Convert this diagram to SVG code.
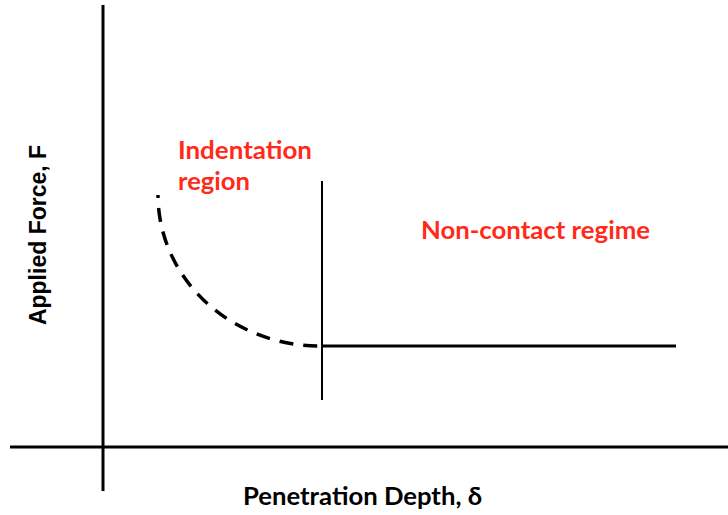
<svg xmlns="http://www.w3.org/2000/svg" width="728" height="515" viewBox="0 0 728 515">
<style>
.ax{stroke:#000;stroke-width:3;fill:none}
.lbl{font-family:Lato,"Open Sans",sans-serif;font-weight:bold;font-size:24px;fill:#000}
.ylbl{font-family:"Liberation Sans",Arial,sans-serif;font-weight:bold;font-size:23px;fill:#000}
.red{font-family:Lato,"Open Sans",sans-serif;font-weight:bold;font-size:24px;fill:#ff2a1a}
</style>
<rect width="728" height="515" fill="#fff"/>
<g id="connectors">
<line class="ax" x1="103" y1="5" x2="103" y2="491"/>
<line class="ax" x1="10" y1="447" x2="728" y2="447"/>
<line x1="322" y1="181" x2="322" y2="400" stroke="#000" stroke-width="2"/>
<line class="ax" x1="321" y1="346" x2="676" y2="346"/>
<path d="M158,195 A162,151 0 0 0 320,346" stroke="#000" stroke-width="3.5" fill="none" stroke-dasharray="3,10,14,10,14,10,14,10,14,10,14,10,14,10,14,10,14,10,14,10,14,10"/>
</g>
<g id="labels">
<text class="red" x="178" y="159" textLength="134" lengthAdjust="spacingAndGlyphs">Indentation</text>
<text class="red" x="178" y="190" textLength="72" lengthAdjust="spacingAndGlyphs">region</text>
<text class="red" x="421" y="239" textLength="229" lengthAdjust="spacingAndGlyphs">Non-contact regime</text>
<text class="lbl" x="243" y="505" textLength="239" lengthAdjust="spacingAndGlyphs">Penetration Depth, δ</text>
<text class="ylbl" x="0" y="0" text-anchor="middle" transform="translate(46,235) rotate(-90)">Applied Force, F</text>
</g>
</svg>
